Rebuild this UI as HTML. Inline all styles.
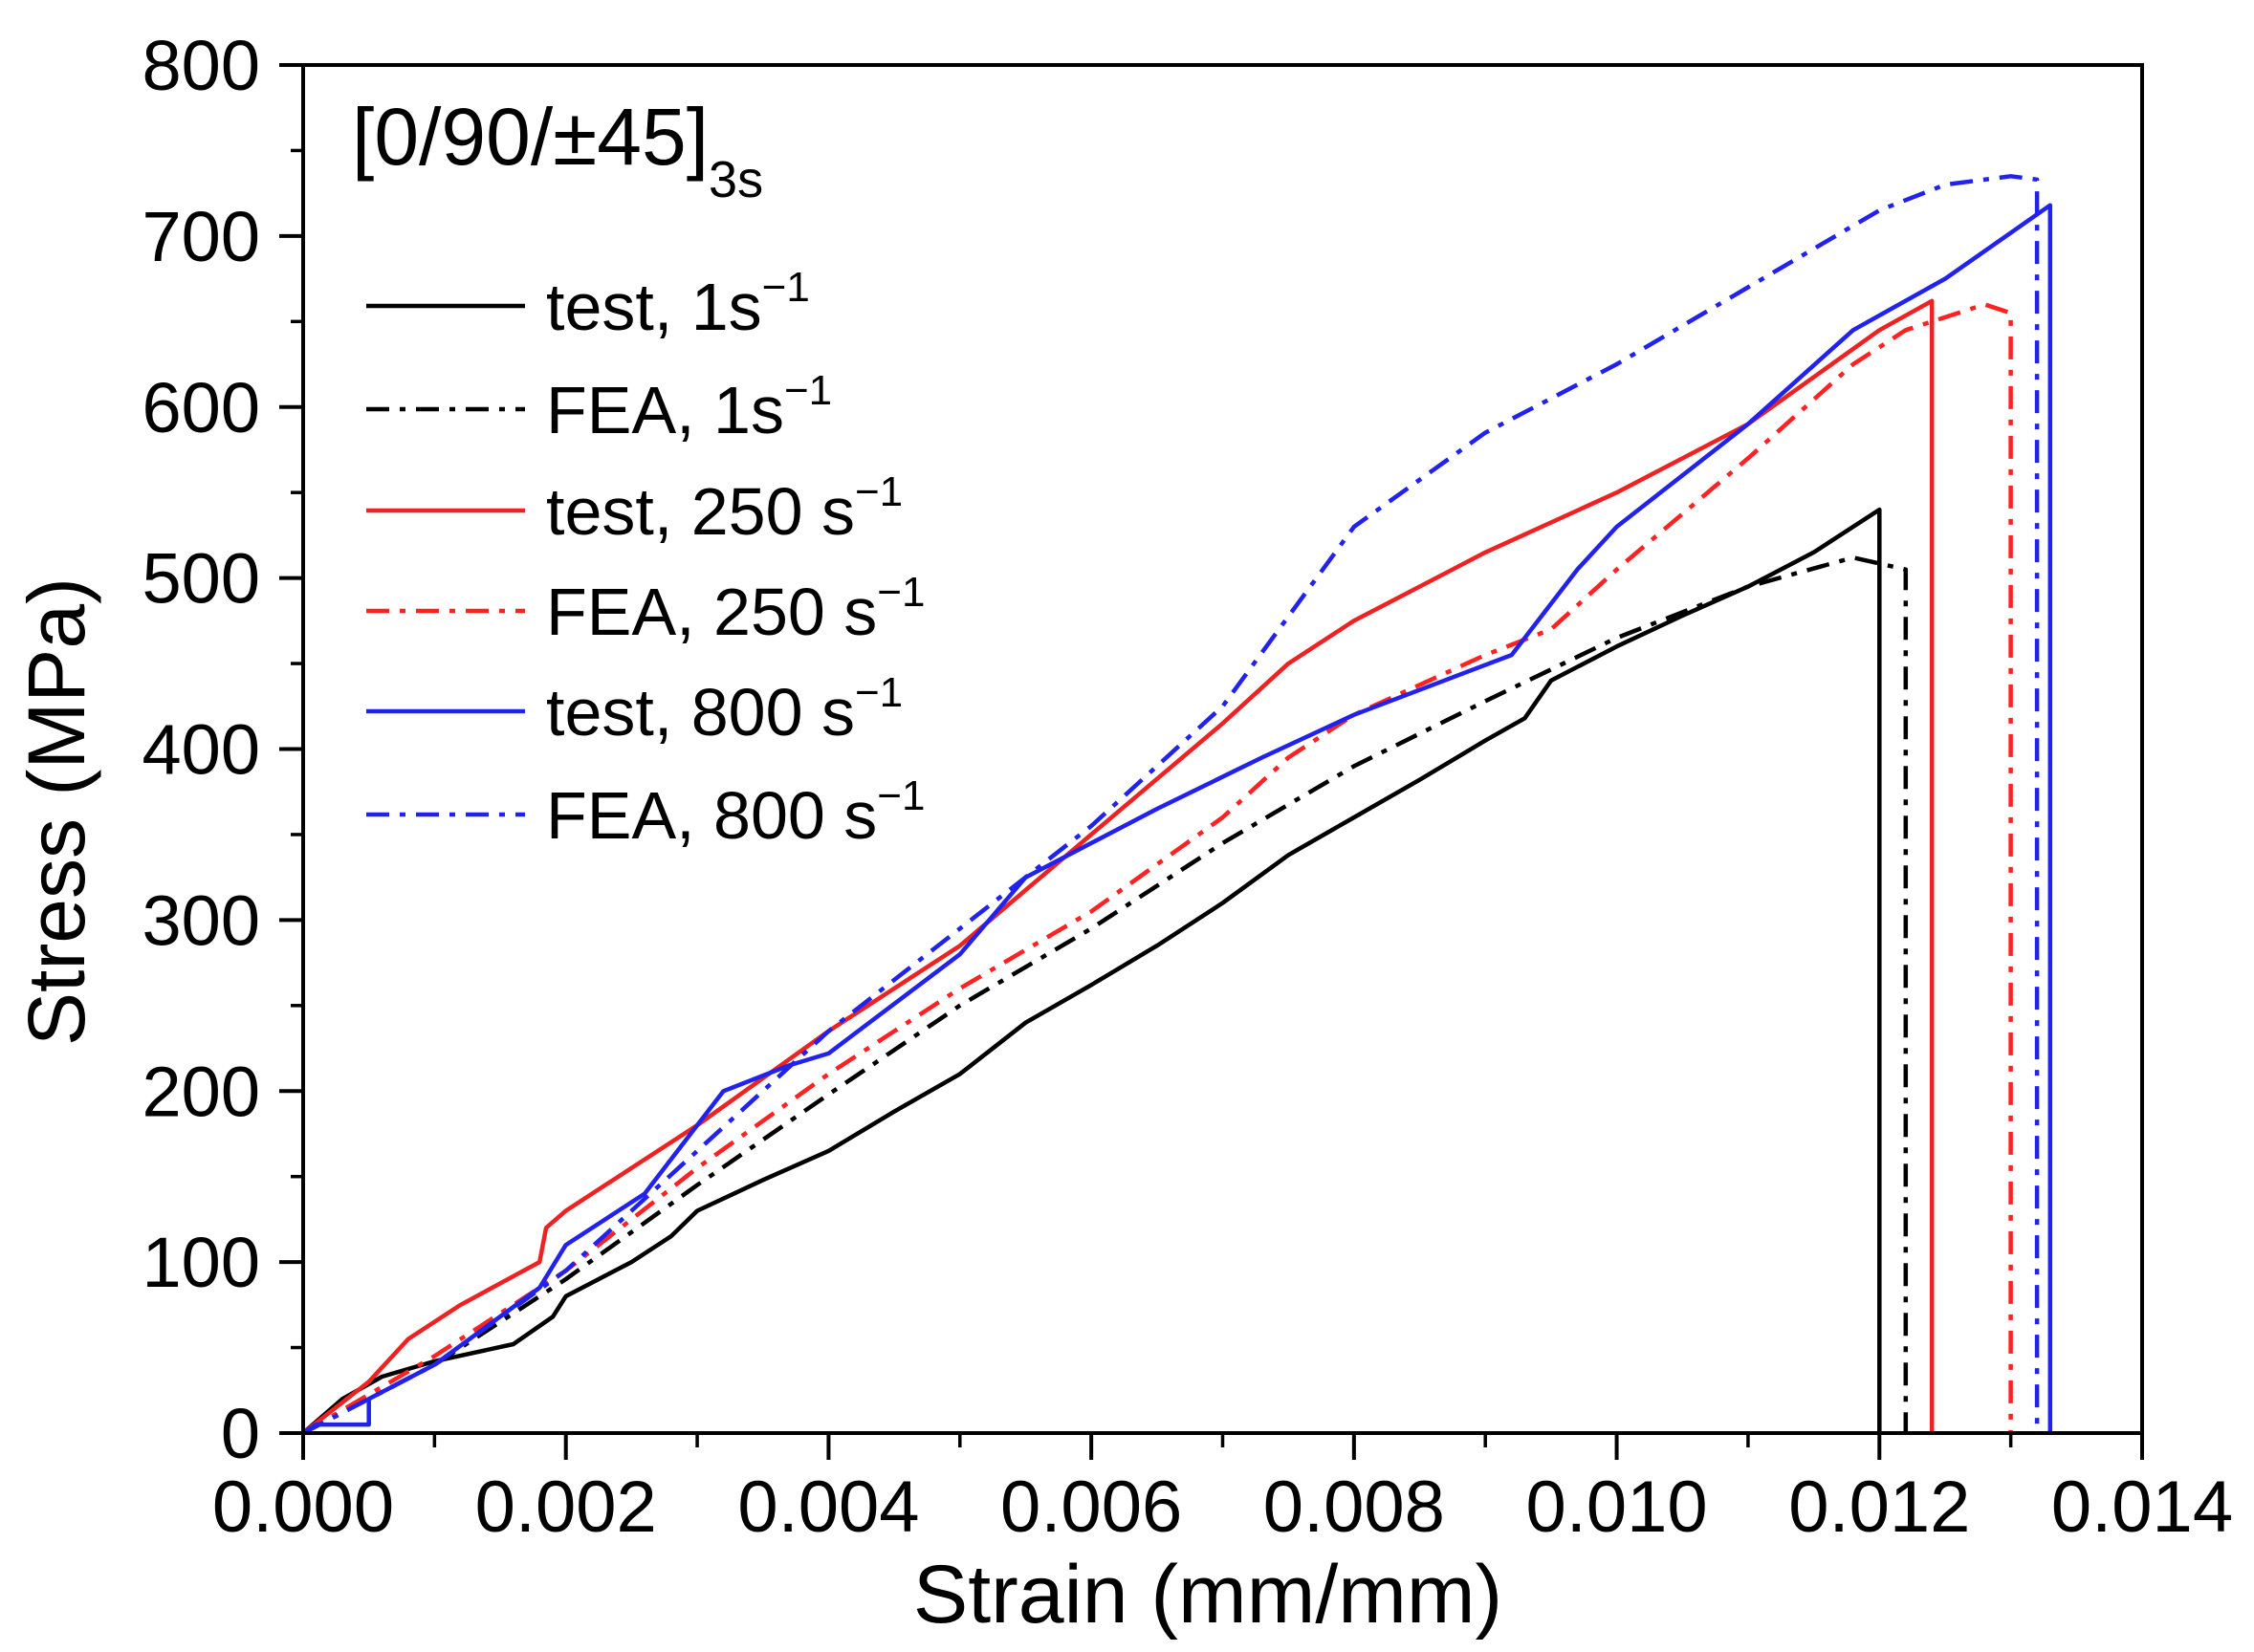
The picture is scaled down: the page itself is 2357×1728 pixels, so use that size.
<!DOCTYPE html>
<html><head><meta charset="utf-8"><style>
html,body{margin:0;padding:0;background:#fff;}
svg{display:block;font-family:"Liberation Sans",Arial,sans-serif;}
</style></head><body>
<svg id="chart" width="2357" height="1728" viewBox="0 0 2357 1728" xmlns="http://www.w3.org/2000/svg">
<g id="marks"></g>
<g id="axes"></g>
<text x="368" y="172" font-size="84">[0/90/±45]<tspan font-size="54" dy="34">3s</tspan></text>
<g id="legend"></g>
<text x="1263" y="1697" font-size="86" text-anchor="middle">Strain (mm/mm)</text>
<text transform="translate(88,849) rotate(-90)" font-size="84" text-anchor="middle">Stress (MPa)</text>
</svg>
<script>
const xTicks=[0,0.002,0.004,0.006,0.008,0.010,0.012,0.014];
const xTickLabels=["0.000","0.002","0.004","0.006","0.008","0.010","0.012","0.014"];
const yTicks=[0,100,200,300,400,500,600,700,800];
const seriesNames=["test-1","fea-1","test-250","fea-250","test-800","fea-800"];
const legendLabels=["test, 1","FEA, 1","test, 250","FEA, 250","test, 800","FEA, 800"];
const test1=[[0,0],[0.0003,20],[0.0006,33],[0.001,42],[0.0016,52],[0.0019,68],[0.002,80],[0.0025,100],[0.0028,115],[0.003,130],[0.0035,148],[0.004,165],[0.0045,188],[0.005,210],[0.0055,240],[0.006,262],[0.0065,285],[0.007,310],[0.0075,338],[0.008,360],[0.0085,382],[0.009,405],[0.0093,418],[0.0095,440],[0.010,460],[0.0105,478],[0.011,495],[0.0115,515],[0.012,540],[0.012,0]];
const fea1=[[0,0],[0.001,40],[0.002,90],[0.003,145],[0.004,198],[0.005,250],[0.006,295],[0.007,345],[0.008,390],[0.009,428],[0.010,465],[0.011,495],[0.0118,512],[0.0122,505],[0.0122,0]];
const test250=[[0,0],[0.0005,30],[0.0008,55],[0.0012,75],[0.0018,100],[0.00185,120],[0.002,130],[0.0025,155],[0.003,180],[0.004,235],[0.005,285],[0.006,350],[0.007,415],[0.0075,450],[0.008,475],[0.009,515],[0.010,550],[0.011,590],[0.012,645],[0.0124,662],[0.0124,0]];
const fea250=[[0,0],[0.001,45],[0.002,95],[0.003,155],[0.004,210],[0.005,260],[0.006,305],[0.007,360],[0.0075,395],[0.008,420],[0.009,455],[0.0095,470],[0.010,505],[0.011,570],[0.0118,625],[0.0122,645],[0.0128,660],[0.0130,655],[0.0130,0]];
const test800=[[0,0],[0.0001,5],[0.0005,5],[0.0005,20],[0.001,40],[0.0018,85],[0.002,110],[0.0026,140],[0.0032,200],[0.0037,215],[0.004,222],[0.005,280],[0.0055,325],[0.006,345],[0.0065,365],[0.0073,395],[0.008,420],[0.0092,455],[0.0097,505],[0.010,530],[0.011,590],[0.0118,645],[0.0125,675],[0.0133,718],[0.0133,0]];
const fea800=[[0,0],[0.001,40],[0.002,95],[0.003,165],[0.004,235],[0.005,295],[0.006,355],[0.007,425],[0.008,530],[0.009,585],[0.010,625],[0.011,670],[0.012,715],[0.0125,730],[0.013,735],[0.0132,733],[0.0132,0]];

const L=317,R=2240,T=68,B=1499;
const X=v=>L+(v/0.014)*(R-L);
const Y=v=>B-(v/800)*(B-T);
const NS="http://www.w3.org/2000/svg";
function mk(tag,attrs,parent){const e=document.createElementNS(NS,tag);for(const k in attrs)e.setAttribute(k,attrs[k]);parent.appendChild(e);return e;}
const styles=[["#000",null],["#000","24 11 6 11"],["#ee2222",null],["#ff2222","24 11 6 11"],["#2222ee",null],["#2222ee","24 11 6 11"]];
const data=[test1,fea1,test250,fea250,test800,fea800];
const marks=document.getElementById('marks');
data.forEach((s,i)=>{
  const p=mk('path',{d:s.map((q,j)=>(j?'L':'M')+X(q[0]).toFixed(1)+' '+Y(q[1]).toFixed(1)).join(' '),fill:'none',stroke:styles[i][0],'stroke-width':4.5,'stroke-linejoin':'round'},marks);
  if(styles[i][1])p.setAttribute('stroke-dasharray',styles[i][1]);
  
  
});
const axes=document.getElementById('axes');
const frame=mk('rect',{x:L,y:T,width:R-L,height:B-T,fill:'none',stroke:'#000','stroke-width':4},axes);


xTicks.forEach((v,i)=>{
  const t=mk('line',{x1:X(v),x2:X(v),y1:B,y2:B+28,stroke:'#000','stroke-width':4},axes);
  
  
  const lb=mk('text',{x:X(v),y:B+103,'font-size':76,'text-anchor':'middle'},axes);
  lb.textContent=xTickLabels[i];
  
  
  if(i<xTicks.length-1){
    const m=mk('line',{x1:X(v+0.001),x2:X(v+0.001),y1:B,y2:B+15,stroke:'#000','stroke-width':3.5},axes);
    
    
  }
});
yTicks.forEach((v,i)=>{
  const t=mk('line',{x1:L-25,x2:L,y1:Y(v),y2:Y(v),stroke:'#000','stroke-width':4},axes);
  
  
  const lb=mk('text',{x:272,y:Y(v)+26,'font-size':74,'text-anchor':'end'},axes);
  lb.textContent=String(v);
  
  
  if(i<yTicks.length-1){
    const m=mk('line',{x1:L-13,x2:L,y1:Y(v+50),y2:Y(v+50),stroke:'#000','stroke-width':3.5},axes);
    
    
  }
});
const leg=document.getElementById('legend');
const rows=[320,428,534,639,744,852];
legendLabels.forEach((t,i)=>{
  const g=mk('g',{},leg);
  
  
  const ln=mk('line',{x1:383,x2:549,y1:rows[i],y2:rows[i],stroke:styles[i][0],'stroke-width':4.5},g);
  if(styles[i][1])ln.setAttribute('stroke-dasharray',styles[i][1]);
  
  
  const tx=mk('text',{x:571,y:rows[i]+25,'font-size':70},g);
  
  
  tx.appendChild(document.createTextNode(t+(i<2?'':' ')+'s'));
  const sp=mk('tspan',{'font-size':44,dy:-30},tx);
  sp.textContent='−1';
});
</script>
</body></html>
